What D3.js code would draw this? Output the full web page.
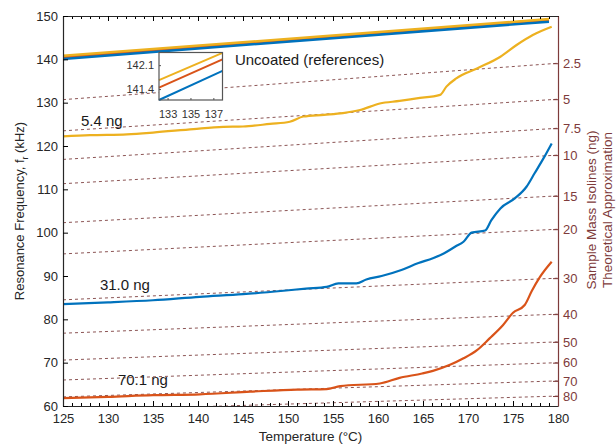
<!DOCTYPE html>
<html>
<head>
<meta charset="utf-8">
<script src="https://cdn.jsdelivr.net/npm/d3@7"></script>
<style>
  body { margin: 0; background: #fff; }
  svg { font-family: "Liberation Sans", Arial, sans-serif; }
</style>
</head>
<body>
<svg id="chart" width="616" height="445"></svg>
<script>
// temperatures / frequencies
const refT = [125, 179]
const refYellow = [140.8, 149.3]
const refOrange = [140.5, 149.0]
const refBlue = [140.1, 148.7]

const yellowT = [125, 128, 132.1, 135, 139.5, 142.8, 145, 148, 150.2, 151.7, 154, 156.1, 158, 160.2, 162.4, 164.3, 166.9, 167.6, 168.7, 171, 173.6, 175.4, 177.2, 179.3]
const yellowF = [122.2, 122.5, 122.7, 123.1, 123.9, 124.4, 124.5, 125.1, 125.6, 126.8, 127.2, 127.6, 128.3, 129.8, 130.4, 131.0, 131.8, 133.7, 135.6, 137.9, 140.6, 143.3, 145.6, 147.5]

const blueT = [125, 130, 135, 140.2, 145, 149.5, 152, 154.3, 155.6, 157.6, 158.7, 160.4, 162.6, 164.5, 166.1, 167.3, 168.6, 169.5, 170.4, 171.9, 172.6, 173.6, 175.2, 176.5, 177.4, 178.4, 179.3]
const blueF = [83.5, 83.9, 84.4, 85.2, 85.8, 86.6, 87.1, 87.5, 88.3, 88.3, 89.2, 90.0, 91.4, 93.0, 94.1, 95.2, 96.8, 97.9, 100.0, 100.5, 102.9, 105.6, 107.9, 110.6, 113.7, 117.2, 120.6]

const orangeT = [125, 130, 135, 140.2, 145.8, 151, 154.3, 155.8, 160.2, 162.4, 164.9, 166.1, 168, 169.5, 171, 172.4, 173.9, 175, 176.3, 177.1, 178, 179.3]
const orangeF = [61.8, 62.1, 62.5, 62.7, 63.3, 63.8, 63.9, 64.6, 65.2, 66.5, 67.5, 68.1, 69.5, 71.0, 72.9, 75.6, 78.7, 81.5, 83.3, 86.6, 89.8, 93.3]

// theoretical isolines: frequency at 125 and 180 degC
const isoMass = [2.5, 5, 7.5, 10, 15, 20, 30, 40, 50, 60, 70, 80]
const isoLeft = [130.7, 123.5, 116.9, 111.3, 102.3, 95.1, 84.5, 76.8, 70.6, 66.0, 62.1, 58.9]
const isoRight = [139.1, 130.8, 124.1, 117.9, 108.5, 100.8, 89.5, 81.2, 74.8, 70.0, 65.8, 62.3]

// inset (zoom of references)
const insetT = [132.25, 137.8]
const insetYellow = [141.66, 142.46]
const insetOrange = [141.44, 142.27]
const insetBlue = [141.08, 141.93]
const insetYTicks = [141.4, 142.1]
const insetXTicks = [133, 135, 137]

const xTicks = [125, 130, 135, 140, 145, 150, 155, 160, 165, 170, 175, 180]
const yTicks = [60, 70, 80, 90, 100, 110, 120, 130, 140, 150]

const colors = { yellow: '#EDB120', orange: '#D95319', blue: '#0072BD', maroon: '#7e3b3b' }

const svg = d3.select('#chart')
const m = { left: 63, right: 558, top: 16, bottom: 406 }

const x = d3.scaleLinear().domain([125, 180]).range([m.left, m.right])
const y = d3.scaleLinear().domain([60, 150]).range([m.bottom, m.top])

svg.append('defs').append('clipPath').attr('id', 'plot-clip')
    .append('rect').attr('x', m.left).attr('y', m.top)
    .attr('width', m.right - m.left).attr('height', m.bottom - m.top)

const plot = svg.append('g').attr('clip-path', 'url(#plot-clip)')

// isolines
isoMass.forEach((mass, i) => {
    plot.append('line')
        .attr('x1', x(125)).attr('y1', y(isoLeft[i]))
        .attr('x2', x(180)).attr('y2', y(isoRight[i]))
        .attr('stroke', '#8c5555')
        .attr('stroke-width', 1)
        .attr('stroke-dasharray', '3,3')
})

const line = d3.line().x(d => x(d[0])).y(d => y(d[1])).curve(d3.curveMonotoneX)
const zip = (a, b) => a.map((v, i) => [v, b[i]])

function drawSeries(g, T, F, color, width, lineGen) {
    g.append('path')
        .datum(zip(T, F))
        .attr('d', lineGen)
        .attr('fill', 'none')
        .attr('stroke', color)
        .attr('stroke-width', width)
        .attr('stroke-linejoin', 'round')
}

drawSeries(plot, refT, refOrange, colors.orange, 2.5, line)
drawSeries(plot, refT, refBlue, colors.blue, 2.5, line)
drawSeries(plot, refT, refYellow, colors.yellow, 2.5, line)
drawSeries(plot, yellowT, yellowF, colors.yellow, 2.2, line)
drawSeries(plot, blueT, blueF, colors.blue, 2.2, line)
drawSeries(plot, orangeT, orangeF, colors.orange, 2.2, line)

// axes
const axisText = sel => sel.selectAll('text').attr('font-size', 13).attr('fill', '#262626')

svg.append('g').attr('transform', `translate(0,${m.bottom})`)
    .call(d3.axisBottom(x).tickValues(d3.range(125, 181, 1)).tickSize(-3).tickFormat(''))
    .call(g => g.select('.domain').remove())
svg.append('g').attr('transform', `translate(0,${m.top})`)
    .call(d3.axisTop(x).tickValues(d3.range(125, 181, 1)).tickSize(-3).tickFormat(''))
    .call(g => g.select('.domain').remove())
svg.append('g').attr('transform', `translate(0,${m.top})`)
    .call(d3.axisTop(x).tickValues(xTicks).tickSize(-5).tickFormat('').tickSizeOuter(0))
    .call(g => g.select('.domain').attr('stroke', '#262626'))

svg.append('g').attr('transform', `translate(0,${m.bottom})`)
    .call(d3.axisBottom(x).tickValues(xTicks).tickSize(-5).tickPadding(8).tickSizeOuter(0))
    .call(axisText)
    .call(g => g.select('.domain').attr('stroke', '#262626').attr('stroke-width', 1.2))

svg.append('g').attr('transform', `translate(${m.left},0)`)
    .call(d3.axisLeft(y).tickValues(yTicks).tickSize(-5).tickPadding(5).tickSizeOuter(0))
    .call(axisText)
    .call(g => g.select('.domain').attr('stroke', '#262626').attr('stroke-width', 1.2))

const rightAxis = svg.append('g').attr('transform', `translate(${m.right},0)`)
    .call(d3.axisRight(y).tickValues(isoRight).tickSize(-5).tickPadding(5).tickSizeOuter(0)
        .tickFormat((d, i) => isoMass[i]))
rightAxis.select('.domain').attr('stroke', colors.maroon).attr('stroke-width', 1.2)
rightAxis.selectAll('.tick line').attr('stroke', colors.maroon)
rightAxis.selectAll('text').attr('font-size', 13).attr('fill', colors.maroon)

// axis titles
svg.append('text')
    .attr('x', (m.left + m.right) / 2).attr('y', 441)
    .attr('text-anchor', 'middle').attr('font-size', 13.5).attr('fill', '#262626')
    .text('Temperature (°C)')

const yTitle = svg.append('text')
    .attr('transform', `translate(24,${(m.top + m.bottom) / 2}) rotate(-90)`)
    .attr('text-anchor', 'middle').attr('font-size', 13).attr('fill', '#262626')
yTitle.append('tspan').text('Resonance Frequency, f')
yTitle.append('tspan').attr('font-size', 9).attr('dy', 4).text('r')
yTitle.append('tspan').attr('dy', -4).text(' (kHz)')

const rTitle = svg.append('text')
    .attr('transform', 'translate(596,210) rotate(-90)')
    .attr('text-anchor', 'middle').attr('font-size', 13.5).attr('fill', colors.maroon)
rTitle.append('tspan').attr('x', 0).text('Sample Mass Isolines (ng)')
rTitle.append('tspan').attr('x', 0).attr('dy', 16).text('Theoretical Approximation')

// annotations
const notes = [
    { text: 'Uncoated (references)', T: 144.1, f: 138.6 },
    { text: '5.4 ng', T: 127.0, f: 124.7 },
    { text: '31.0 ng', T: 129.1, f: 86.8 },
    { text: '70.1 ng', T: 131.1, f: 64.8 }
]
svg.selectAll('text.note').data(notes).join('text')
    .attr('class', 'note')
    .attr('x', d => x(d.T)).attr('y', d => y(d.f))
    .attr('font-size', 15).attr('fill', '#1a1a1a')
    .text(d => d.text)

// inset
const ix = d3.scaleLinear().domain([132.25, 137.8]).range([159, 222.5])
const iy = d3.scaleLinear().domain([141.08, 142.47]).range([100, 52.5])
const inset = svg.append('g')
inset.append('rect').attr('x', 159).attr('y', 52.5).attr('width', 63.5).attr('height', 47.5)
    .attr('fill', '#fff')
const ig = inset.append('g')
const iline = d3.line().x(d => ix(d[0])).y(d => iy(d[1]))
drawSeries(ig, insetT, insetYellow, colors.yellow, 2, iline)
drawSeries(ig, insetT, insetOrange, colors.orange, 2, iline)
drawSeries(ig, insetT, insetBlue, colors.blue, 2, iline)
inset.append('g').attr('transform', 'translate(0,100)')
    .call(d3.axisBottom(ix).tickValues(insetXTicks).tickSize(-2).tickPadding(10).tickSizeOuter(0)
        .tickFormat(d3.format('d')))
    .call(g => g.select('.domain').remove())
    .call(g => g.selectAll('line').attr('stroke', '#555'))
    .call(g => g.selectAll('text').attr('font-size', 11).attr('fill', '#333'))
inset.append('g').attr('transform', 'translate(159,0)')
    .call(d3.axisLeft(iy).tickValues(insetYTicks).tickSize(-2).tickPadding(5).tickSizeOuter(0)
        .tickFormat(d3.format('.1f')))
    .call(g => g.select('.domain').remove())
    .call(g => g.selectAll('line').attr('stroke', '#555'))
    .call(g => g.selectAll('text').attr('font-size', 11).attr('fill', '#333'))
inset.append('rect').attr('x', 159).attr('y', 52.5).attr('width', 63.5).attr('height', 47.5)
    .attr('fill', 'none').attr('stroke', '#555').attr('stroke-width', 1.2)
</script>
</body>
</html>
